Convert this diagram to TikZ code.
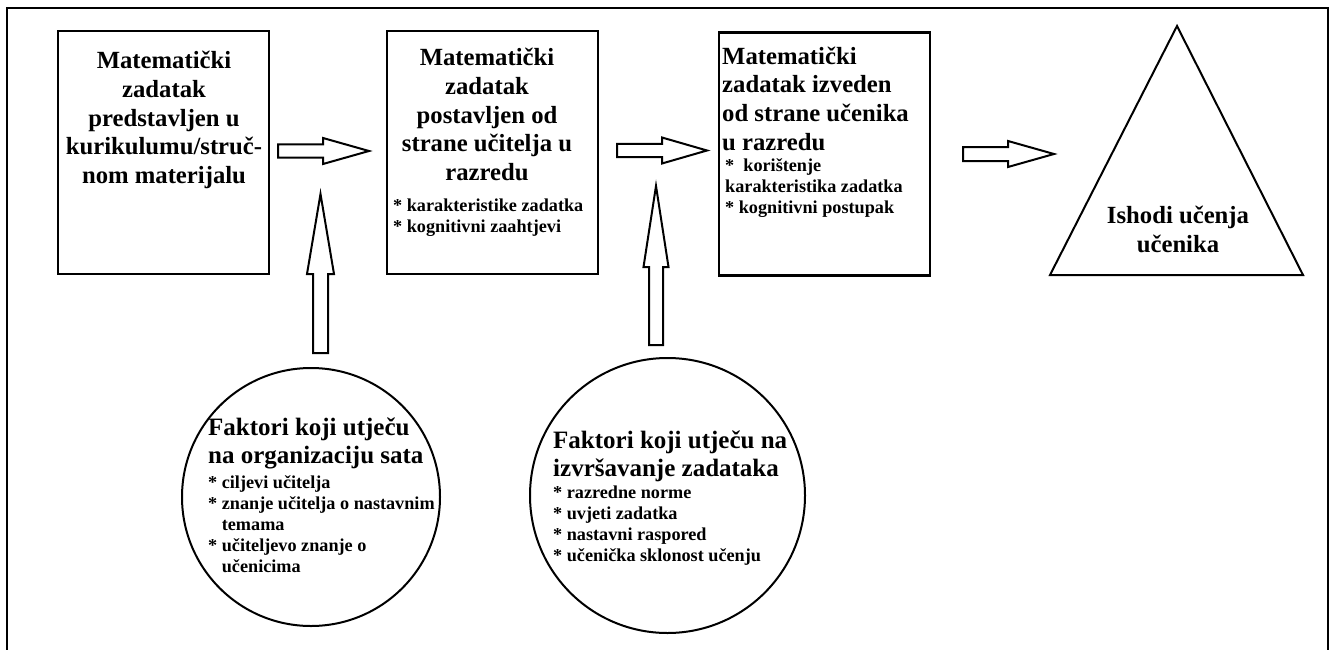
\documentclass[tikz,border=0pt]{standalone}
\usepackage{fontspec}
\setmainfont{Liberation Serif}
\usetikzlibrary{calc,positioning}

\newcommand{\blokstrelica}[5]{%
  \draw [strelica] let \p1=(#1), \p2=(#2),
    \n1={veclen(\x2-\x1,\y2-\y1)}, \n2={atan2(\y2-\y1,\x2-\x1)} in
    [shift={(\p1)}, rotate=\n2]
    (0,-#5) -- ({\n1-#3},-#5) -- ({\n1-#3},-#4) -- (\n1,0)
    -- ({\n1-#3},#4) -- ({\n1-#3},#5) -- (0,#5) -- cycle;}

\tikzset{
  zadatak/.style={draw, line width=2.8pt, minimum width=211pt, minimum height=243pt, inner sep=0pt, outer sep=0pt},
  krug/.style={draw, circle, line width=2pt, inner sep=0pt, outer sep=0pt},
  naslov/.style={font=\fontsize{24.7}{28.7}\selectfont\bfseries, inner sep=0pt},
  krugnaslov/.style={font=\fontsize{25}{28}\selectfont\bfseries, inner sep=0pt, align=left, anchor=north west},
  stavka/.style={font=\fontsize{18.2}{21}\selectfont\bfseries, inner sep=0pt, align=left, anchor=north west},
  strelica/.style={line width=2pt, line join=miter, fill=white},
  okvir/.style={line width=2.2pt}
}

\begin{document}
\begin{tikzpicture}[x=1pt, y=-1pt]
  \useasboundingbox (0,0) rectangle (1330,650);
  \draw [okvir] (7,660) -- (7,8) -- (1328,8) -- (1328,660);

  \node [zadatak] (zad1) at (163.5,152.5) {};
  \node [zadatak] (zad2) at (492.5,152.5) {};
  \node [zadatak] (zad3) at (824.5,154) {};

  \node [naslov, align=center, anchor=north, below=20pt of zad1.north, xshift=0.5pt] (zad1t)
    {Matematički\\ zadatak\\ predstavljen u\\ kurikulumu/struč-\\ nom materijalu};
  \node [naslov, align=center, anchor=north, below=17pt of zad2.north, xshift=-5.5pt] (zad2t)
    {Matematički\\ zadatak\\ postavljen od\\ strane učitelja u\\ razredu};
  \node [stavka, below right=168pt and 6pt of zad2.north west] (zad2s)
    {* karakteristike zadatka\\ * kognitivni zaahtjevi};
  \node [naslov, align=left, below right=14pt and 3pt of zad3.north west] (zad3t)
    {Matematički\\ zadatak izveden\\ od strane učenika\\ u razredu};
  \node [stavka, below right=126pt and 6pt of zad3.north west] (zad3s)
    {*\ \ korištenje\\ karakteristika zadatka\\ * kognitivni postupak};

  \coordinate (vrh) at (1177,26);
  \coordinate (lijevo) at (1050,275);
  \coordinate (desno) at (1303,275);
  \draw [line width=2pt, line join=miter] (vrh) -- (lijevo) -- (desno) -- cycle;
  \node [naslov, align=center, anchor=north] (ishodi) at ($(vrh)+(1,180)$)
    {Ishodi učenja\\ učenika};

  \node [krug, minimum size=258pt] (krug1) at (311,497) {};
  \node [krug, minimum size=275pt] (krug2) at (667.5,495.5) {};
  \node [krugnaslov] (krug1t) at ($(krug1.center)+(-103,-79)$)
    {Faktori koji utječu\\ na organizaciju sata};
  \node [stavka] (krug1s) at ($(krug1.center)+(-103,-22)$)
    {* ciljevi učitelja\\ * znanje učitelja o nastavnim\\ \hphantom{*\ }temama\\
     * učiteljevo znanje o\\ \hphantom{*\ }učenicima};
  \node [krugnaslov] (krug2t) at ($(krug2.center)+(-114.5,-64.5)$)
    {Faktori koji utječu na\\ izvršavanje zadataka};
  \node [stavka] (krug2s) at ($(krug2.center)+(-114.5,-9.5)$)
    {* razredne norme\\ * uvjeti zadatka\\ * nastavni raspored\\ * učenička sklonost učenju};

  \coordinate (s1a) at ($(zad1.east)+(9,-1.5)$);
  \coordinate (s1b) at ($(zad2.west)+(-18,-1.5)$);
  \coordinate (s2a) at ($(zad2.east)+(19,-2)$);
  \coordinate (s2b) at ($(zad3.west)+(-12,-3.5)$);
  \coordinate (s3a) at ($(zad3.east)+(33,0)$);
  \coordinate (s3b) at ($(lijevo |- zad3.east)+(4,0)$);
  \coordinate (k1a) at ($(krug1.north)+(9.5,-15)$);
  \coordinate (k1b) at (320.5,194);
  \coordinate (k2a) at ($(krug2.north)+(-11.5,-13)$);
  \coordinate (k2b) at (656,186);

  \blokstrelica{s1a}{s1b}{46}{13}{6.5}
  \blokstrelica{s2a}{s2b}{45}{13}{6.5}
  \blokstrelica{s3a}{s3b}{46}{13}{7}
  \blokstrelica{k1a}{k1b}{80}{13.5}{7.5}
  \blokstrelica{k2a}{k2b}{81}{12.5}{7}
\end{tikzpicture}
\end{document}
